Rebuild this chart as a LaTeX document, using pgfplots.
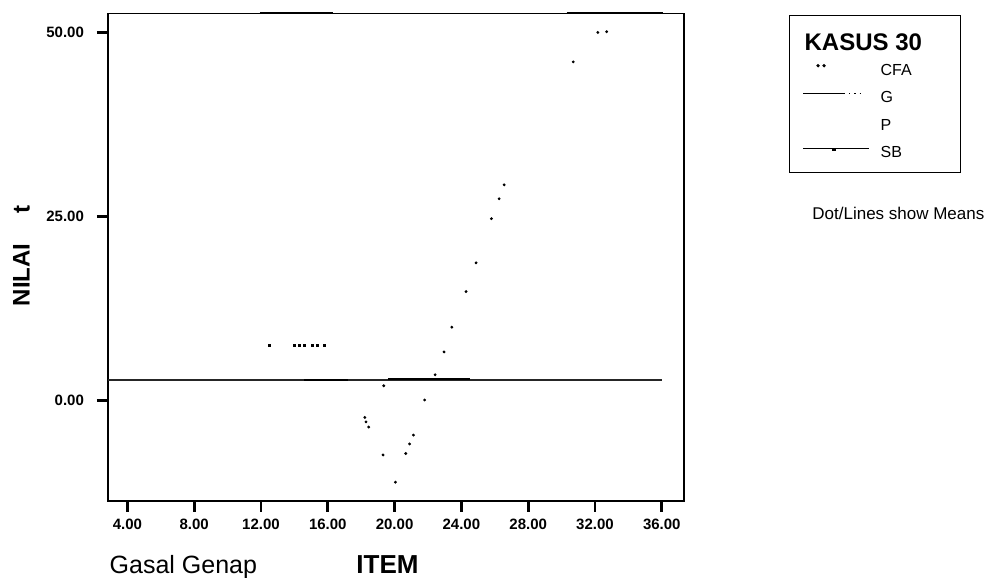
\documentclass[border=0pt]{standalone}
\usepackage{fontspec}
\setmainfont{Liberation Sans}
\usepackage{pgfplots}
\pgfplotsset{compat=1.18}
\begin{document}
\begin{tikzpicture}[x=0.5pt,y=0.5pt]
\useasboundingbox (-108,-77) rectangle (889,501);
\begin{axis}[
  scale only axis, width=288pt, height=243.85pt,
  xmin=2.84, xmax=37.33, ymin=-13.65, ymax=52.6,
  clip=false,
  axis line style={black, line width=0.7pt},
  xtick={4,8,12,16,20,24,28,32,36}, ytick={0,25,50},
  xtick pos=left, ytick pos=left,
  tick align=outside, major tick length=5.5pt,
  every tick/.style={black, line width=1.4pt},
  tick label style={font=\fontsize{7.5}{9}\selectfont\bfseries,
    /pgf/number format/fixed, /pgf/number format/fixed zerofill,
    /pgf/number format/precision=2, /pgf/number format/assume math mode=true},
  yticklabel style={xshift=-3pt},
  legend style={at={(1.182,0.997)}, anchor=north west, draw=black, line width=0.6pt,
    inner xsep=6.5pt, inner ysep=5.75pt, row sep=6.2pt, column sep=5.5pt,
    font=\fontsize{8}{9}\selectfont,
    nodes={inner sep=0pt, text height=6pt, text depth=1.6pt}},
  legend cell align=left,
]
% CFA (dotted series, visible as dots)
\addplot[forget plot, only marks, mark=*, mark size=0.5pt, black] coordinates {
 (18.22,-2.3) (18.29,-2.9) (18.45,-3.6) (19.31,-7.4) (19.35,2.0) (20.05,-11.1)
 (20.67,-7.2) (20.9,-5.9) (21.13,-4.7) (21.8,0.07) (22.43,3.5) (22.96,6.6)
 (23.43,9.96) (24.28,14.8) (24.88,18.7) (25.8,24.7) (26.26,27.4) (26.56,29.3)
 (30.7,46.0) (32.17,50.0) (32.7,50.1)};
% P
\addplot[forget plot, only marks, mark=square*, mark size=0.5pt, black] coordinates {
 (12.52,7.54) (14.02,7.54) (14.32,7.54) (14.6,7.54) (15.1,7.54) (15.35,7.54) (15.8,7.54)};
% G
\addplot[forget plot, black!85, line width=0.7pt] coordinates {(2.84,2.8) (36,2.8)};
% SB
\addplot[forget plot, black, line width=1.0pt] coordinates {(14.6,2.72) (17.2,2.72)};
\addplot[forget plot, black, line width=1.0pt] coordinates {(19.6,2.95) (24.5,2.95)};
% segments running along the top edge
\addplot[forget plot, black, line width=0.9pt] coordinates {(11.94,52.6) (16.3,52.6)};
\addplot[forget plot, black, line width=0.9pt] coordinates {(30.3,52.6) (36.1,52.6)};
% legend
\addlegendimage{legend image code/.code={\path[draw=none] (0pt,0pt) -- (33pt,0pt);}}
\addlegendentry[text height=11.9pt, text depth=0pt]{\makebox[33.5pt][l]{\hspace*{-38pt}\fontsize{12}{12}\selectfont\bfseries KASUS 30}}
\addlegendimage{legend image code/.code={\path[draw=none] (0pt,0pt) -- (33pt,0pt);
  \fill (7.5pt,2.5pt) circle (0.5pt); \fill (10.5pt,2.5pt) circle (0.5pt);}}
\addlegendentry{CFA}
\addlegendimage{legend image code/.code={\path[draw=none] (0pt,0pt) -- (33pt,0pt);
  \draw[line width=0.6pt] (0pt,2.5pt) -- (20.5pt,2.5pt);
  \draw[line width=0.6pt, dotted] (20.5pt,2.5pt) -- (30.5pt,2.5pt);}}
\addlegendentry{G}
\addlegendimage{legend image code/.code={\path[draw=none] (0pt,0pt) -- (33pt,0pt);}}
\addlegendentry{P}
\addlegendimage{legend image code/.code={\path[draw=none] (0pt,0pt) -- (33pt,0pt);
  \draw[line width=0.6pt] (0pt,2.5pt) -- (33pt,2.5pt);
  \fill (15pt,1.6pt) rectangle (16.2pt,2.5pt);}}
\addlegendentry{SB}
\end{axis}
\node[rotate=90, inner sep=0pt, font=\fontsize{12}{14}\selectfont\bfseries] at (-86.5,245) {NILAI\hspace{15pt}t};
\node[anchor=base west, inner sep=0pt, font=\fontsize{12.5}{14}\selectfont] at (1.3,-72.3) {Gasal Genap};
\node[anchor=base west, inner sep=0pt, font=\fontsize{13}{14}\selectfont\bfseries] at (248,-72.3) {ITEM};
\node[anchor=base west, inner sep=0pt, font=\fontsize{8.5}{10}\selectfont] at (704,281) {Dot/Lines show Means};
\end{tikzpicture}
\end{document}
